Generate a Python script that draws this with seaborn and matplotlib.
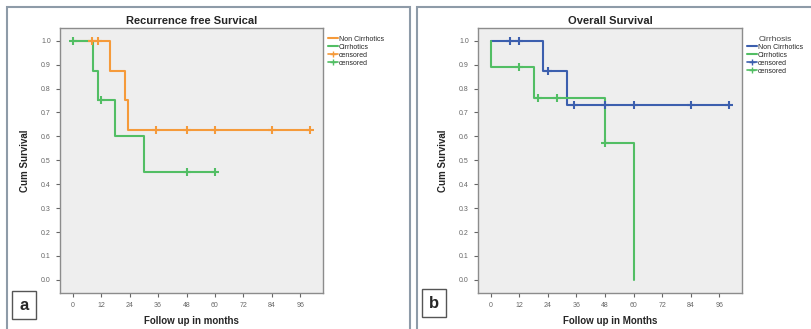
import numpy as np
import pandas as pd
import seaborn as sns
import matplotlib.pyplot as plt
from matplotlib.lines import Line2D
from matplotlib.patches import Rectangle

# panel a: recurrence free survival
rfs_nc_time = [0, 15.7, 22, 23.4, 100]
rfs_nc_surv = [1.0, 0.875, 0.75, 0.625, 0.625]
rfs_nc_cens_time = [8, 10.5, 35, 48, 60, 84, 100]
rfs_nc_cens_surv = [1.0, 1.0, 0.625, 0.625, 0.625, 0.625, 0.625]

rfs_c_time = [0, 8.7, 10.8, 17.8, 30, 60]
rfs_c_surv = [1.0, 0.875, 0.75, 0.6, 0.45, 0.45]
rfs_c_cens_time = [0, 12, 48, 60]
rfs_c_cens_surv = [1.0, 0.75, 0.45, 0.45]

# panel b: overall survival
os_nc_time = [0, 22, 32, 100]
os_nc_surv = [1.0, 0.875, 0.729, 0.729]
os_nc_cens_time = [8, 12, 24, 35, 48, 60, 84, 100]
os_nc_cens_surv = [1.0, 1.0, 0.875, 0.729, 0.729, 0.729, 0.729, 0.729]

os_c_time = [0, 0, 18, 48, 60]
os_c_surv = [1.0, 0.889, 0.762, 0.571, 0.0]
os_c_cens_time = [12, 20, 28, 48]
os_c_cens_surv = [0.889, 0.762, 0.762, 0.571]

groups = ["Non Cirrhotics", "Cirrhotics"]
x_ticks = [0, 12, 24, 36, 48, 60, 72, 84, 96]
y_ticks = [0.0, 0.1, 0.2, 0.3, 0.4, 0.5, 0.6, 0.7, 0.8, 0.9, 1.0]

orange = "#F59A3A"
green = "#52BE64"
blue = "#3C5FAE"

sns.set_style("white")
plt.rcParams["font.family"] = ["Liberation Sans", "DejaVu Sans"]

W, H = 812, 329
fig = plt.figure(figsize=(W / 100, H / 100), dpi=100)


def px_axes(x0, y0, x1, y1):
    return fig.add_axes([x0 / W, 1 - y1 / H, (x1 - x0) / W, (y1 - y0) / H])


def km_panel(ax, curves, title, xlabel):
    ax.set_facecolor("#EEEEEE")
    # later group drawn on top, like SPSS does
    for i, (t, s, ct, cs, col) in enumerate(curves):
        d = pd.DataFrame({"t": t, "s": s})
        sns.lineplot(data=d, x="t", y="s", ax=ax, color=col, lw=1.5,
                     drawstyle="steps-post", estimator=None, sort=False,
                     zorder=2 + i)
        dc = pd.DataFrame({"t": ct, "s": cs})
        sns.scatterplot(data=dc, x="t", y="s", ax=ax, color=col, marker="+",
                        s=40, linewidth=1.5, zorder=5 + i)
    ax.set_xlim(-5.3, 105.5)
    ax.set_ylim(-0.055, 1.053)
    ax.set_xticks(x_ticks)
    ax.set_yticks(y_ticks)
    ax.set_yticklabels([f"{v:.1f}" for v in y_ticks])
    ax.tick_params(labelsize=5, colors="#666666", length=3, width=0.8,
                   direction="out", left=True, bottom=True)
    for sp in ax.spines.values():
        sp.set_color("#8C8C8C")
        sp.set_linewidth(1.0)
    ax.set_title(title, fontsize=8, fontweight="bold", pad=3)
    ax.set_xlabel(xlabel, fontsize=7, fontweight="bold", labelpad=5)
    ax.set_ylabel("Cum Survival", fontsize=7, fontweight="bold", labelpad=8)


def legend(ax, cols, title=None):
    handles = [Line2D([], [], color=cols[0], lw=1.5),
               Line2D([], [], color=cols[1], lw=1.5),
               Line2D([], [], color=cols[0], marker="+", lw=1.2, markersize=5),
               Line2D([], [], color=cols[1], marker="+", lw=1.2, markersize=5)]
    labels = groups + ["censored", "censored"]
    leg = ax.legend(handles, labels, loc="upper left", bbox_to_anchor=(1.0, 0.99),
                    frameon=False, fontsize=5, handlelength=1.4,
                    handletextpad=0.2, labelspacing=0.15, borderaxespad=0.3,
                    title=title, title_fontsize=6)
    if title:
        leg.get_title().set_color("#444444")


ax1 = px_axes(60, 28, 323, 293)
km_panel(ax1, [(rfs_nc_time, rfs_nc_surv, rfs_nc_cens_time, rfs_nc_cens_surv, orange),
               (rfs_c_time, rfs_c_surv, rfs_c_cens_time, rfs_c_cens_surv, green)],
         "Recurrence free Survical", "Follow up in months")
legend(ax1, [orange, green])

ax2 = px_axes(478, 28, 742, 293)
km_panel(ax2, [(os_nc_time, os_nc_surv, os_nc_cens_time, os_nc_cens_surv, blue),
               (os_c_time, os_c_surv, os_c_cens_time, os_c_cens_surv, green)],
         "Overall Survival", "Follow up in Months")
legend(ax2, [blue, green], title="Cirrhosis")

# panel frames
border = "#8E9BA8"
fig.patches.append(Rectangle((7 / W, -0.05), (410 - 7) / W, 1.05 - 7 / H,
                             transform=fig.transFigure, fill=False,
                             edgecolor=border, lw=1.5))
fig.patches.append(Rectangle((417 / W, -0.05), 0.6, 1.05 - 7 / H,
                             transform=fig.transFigure, fill=False,
                             edgecolor=border, lw=1.5))

# panel letters
for lab, x0, y0 in [("a", 12, 291), ("b", 422, 289)]:
    fig.patches.append(Rectangle((x0 / W, 1 - (y0 + 28) / H), 24 / W, 28 / H,
                                 transform=fig.transFigure, fill=False,
                                 edgecolor="#555555", lw=1.0))
    fig.text((x0 + 12) / W, 1 - (y0 + 14) / H, lab, fontsize=12,
             fontweight="bold", ha="center", va="center")

fig.savefig("out.png", dpi=100)
